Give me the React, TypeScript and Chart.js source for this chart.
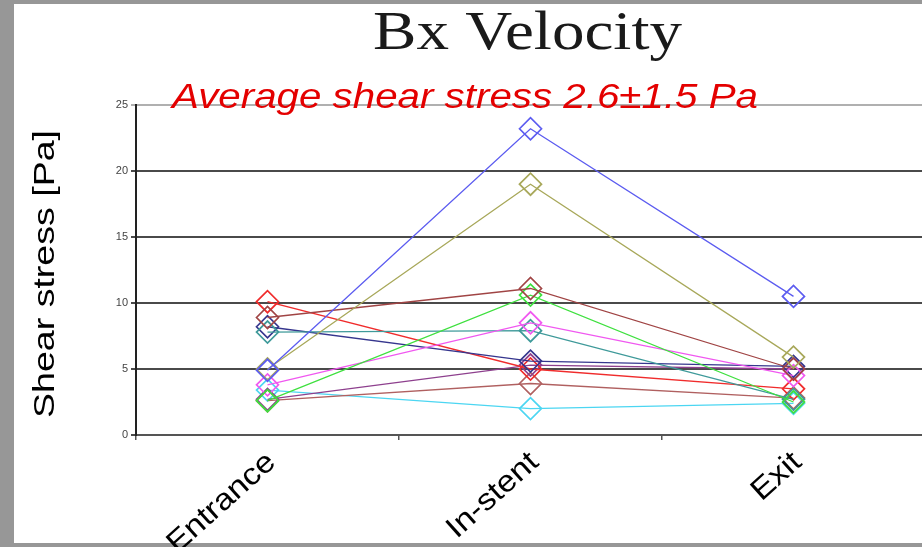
import React, { useEffect, useRef } from "react";
import { Chart, registerables } from "chart.js";

Chart.register(...registerables);

// ---------- data ----------
const categories = ["Entrance", "In-stent", "Exit"];
const yTickValues = [0, 5, 10, 15, 20, 25];
const titleText = "Bx Velocity";
const annotationText = "Average shear stress 2.6\u00b11.5 Pa";
const yAxisTitle = "Shear stress [Pa]";

const blueValues = [4.9, 23.2, 10.5];
const oliveValues = [5.0, 19.0, 5.9];
const brownValues = [8.9, 11.1, 5.0];
const greenValues = [2.6, 10.6, 2.5];
const magentaValues = [3.8, 8.5, 4.5];
const tealValues = [7.8, 7.9, 2.7];
const navyValues = [8.2, 5.6, 5.2];
const redValues = [10.1, 5.0, 3.5];
const purpleValues = [2.7, 5.3, 5.0];
const rosyValues = [2.6, 3.9, 2.8];
const cyanValues = [3.4, 2.0, 2.4];

const seriesNames = ["S1", "S2", "S3", "S4", "S5", "S6", "S7", "S8", "S9", "S10", "S11"];
const seriesValues = [
  blueValues, oliveValues, brownValues, greenValues, magentaValues, tealValues,
  navyValues, redValues, purpleValues, rosyValues, cyanValues,
];
const seriesColors = [
  "#5c5cf0", "#a8a85a", "#a04444", "#3fe03f", "#f058f0", "#3f9a9a",
  "#36368e", "#f02c2c", "#8e408e", "#b06060", "#4cd6f2",
];

const textPlugin = {
  id: "customText",
  afterDraw(chart: any) {
    const ctx: CanvasRenderingContext2D = chart.ctx;
    const xs = chart.scales.x;

    // Title
    ctx.save();
    ctx.fillStyle = "#1a1a1a";
    ctx.font = "55px 'Liberation Serif', 'Times New Roman', serif";
    ctx.textBaseline = "alphabetic";
    ctx.textAlign = "left";
    let w = ctx.measureText(titleText).width;
    ctx.translate(373, 49);
    ctx.scale(309 / w, 1);
    ctx.fillText(titleText, 0, 0);
    ctx.restore();

    // red annotation
    ctx.save();
    ctx.fillStyle = "#e40000";
    ctx.font = "italic 35px 'Liberation Sans', Arial, sans-serif";
    ctx.textBaseline = "alphabetic";
    ctx.textAlign = "left";
    w = ctx.measureText(annotationText).width;
    ctx.translate(172, 108);
    ctx.scale(586 / w, 1);
    ctx.fillText(annotationText, 0, 0);
    ctx.restore();

    // y axis title
    ctx.save();
    ctx.fillStyle = "#000";
    ctx.font = "29px 'Liberation Sans', Arial, sans-serif";
    ctx.textBaseline = "alphabetic";
    ctx.textAlign = "center";
    w = ctx.measureText(yAxisTitle).width;
    ctx.translate(54, 274);
    ctx.rotate(-Math.PI / 2);
    ctx.scale(288 / w, 1);
    ctx.fillText(yAxisTitle, 0, 0);
    ctx.restore();

    // x tick labels
    const ang = (42 * Math.PI) / 180;
    categories.forEach((lab, i) => {
      const px = xs.getPixelForValue(i);
      ctx.save();
      ctx.fillStyle = "#000";
      ctx.font = "30px 'Liberation Sans', Arial, sans-serif";
      ctx.textAlign = "right";
      ctx.textBaseline = "top";
      ctx.translate(px - 6, 447);
      ctx.rotate(-ang);
      ctx.scale(1.12, 1);
      ctx.fillText(lab, 0, 0);
      ctx.restore();
    });
  },
};

export default function App() {
  const ref = useRef<HTMLCanvasElement | null>(null);

  useEffect(() => {
    if (!ref.current) return;
    const chart = new Chart(ref.current, {
      type: "line",
      data: {
        labels: categories,
        datasets: seriesValues.map((vals, i) => ({
          label: seriesNames[i],
          data: vals,
          borderColor: seriesColors[i],
          backgroundColor: "rgba(0,0,0,0)",
          borderWidth: 1.3,
          pointStyle: "rectRot",
          pointRadius: 11,
          pointBorderWidth: 1.7,
          pointBorderColor: seriesColors[i],
          pointBackgroundColor: "rgba(0,0,0,0)",
          tension: 0,
          fill: false,
        })),
      },
      options: {
        responsive: false,
        animation: false,
        events: [],
        layout: { padding: { left: 0, top: 105, right: 15, bottom: 0 } },
        plugins: {
          legend: { display: false },
          title: { display: false },
          tooltip: { enabled: false },
        },
        scales: {
          x: {
            type: "category",
            offset: true,
            grid: {
              offset: true,
              drawOnChartArea: false,
              drawTicks: true,
              tickLength: 5,
              color: "#555",
              lineWidth: 1.5,
            },
            border: { display: true, color: "#555", width: 2 },
            ticks: { display: false },
            afterFit: (s: any) => {
              s.height = 112;
            },
          },
          y: {
            min: 0,
            max: 25,
            afterBuildTicks: (s: any) => {
              s.ticks = yTickValues.map((v) => ({ value: v }));
            },
            ticks: {
              font: { size: 11, family: "'Liberation Sans', Arial, sans-serif" },
              color: "#444",
              padding: 3,
            },
            grid: {
              color: (c: any) => (c.tick && c.tick.value === 25 ? "#b0b0b0" : "#4a4a4a"),
              lineWidth: 2,
              tickLength: 5,
              drawTicks: true,
            },
            border: { display: true, color: "#222", width: 2 },
            afterFit: (s: any) => {
              s.width = 136;
            },
          },
        },
      },
      plugins: [textPlugin],
    } as any);
    return () => chart.destroy();
  }, []);

  return (
    <div
      style={{
        position: "fixed",
        left: 0,
        top: 0,
        width: 922,
        height: 547,
        background: "#979797",
        overflow: "hidden",
      }}
    >
      <div
        style={{
          position: "absolute",
          left: 14,
          top: 4,
          right: 0,
          bottom: 4,
          background: "#ffffff",
        }}
      />
      <canvas
        ref={ref}
        width={940}
        height={547}
        style={{ position: "absolute", left: 0, top: 0, width: 940, height: 547 }}
      />
    </div>
  );
}
